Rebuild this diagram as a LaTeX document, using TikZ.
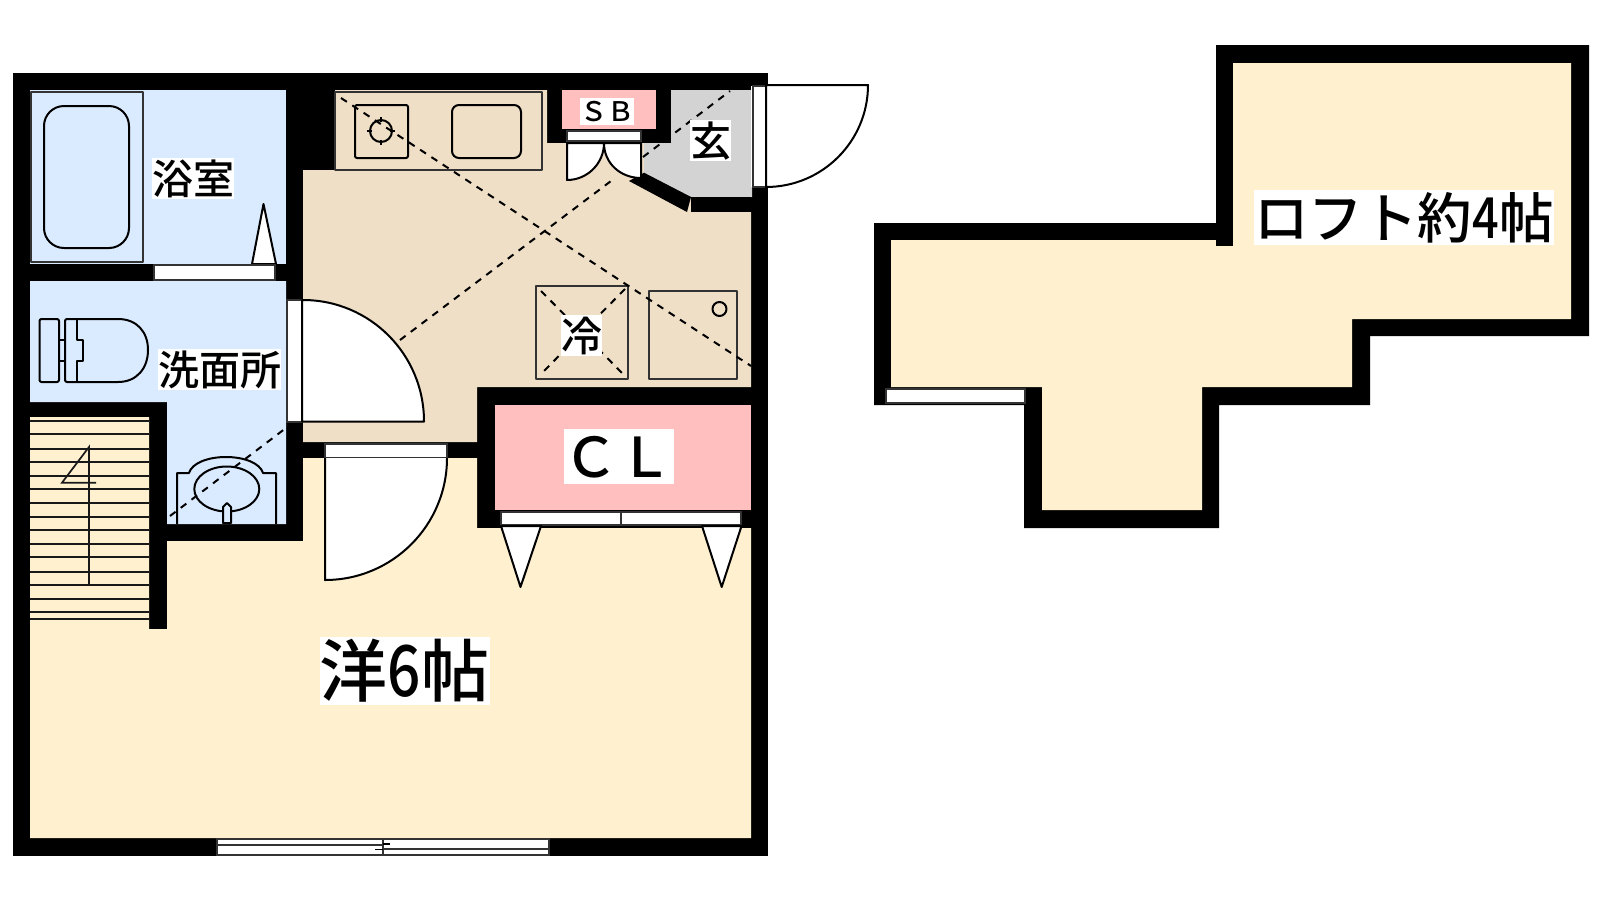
\documentclass[tikz,border=0pt]{standalone}
\usepackage{fontspec}
\usepackage{graphicx}
\newfontfamily\jpfont[UprightFont=* Medium]{Noto Sans CJK JP}
\newcommand{\hdig}[1]{\makebox[.5em]{\scalebox{.86}[1.04]{#1}}}
\definecolor{bathblue}{HTML}{DBEBFF}
\definecolor{kitbeige}{HTML}{EFDFC6}
\definecolor{roomyel}{HTML}{FFF0CF}
\definecolor{clpink}{HTML}{FFBFBF}
\definecolor{hallgray}{HTML}{D3D3D3}
\definecolor{winline}{HTML}{333333}
\tikzset{
  wall/.style={fill=black,draw=none},
  fixture/.style={draw=black,line width=2pt,line join=round},
  winframe/.style={fill=white,draw=winline,line width=2pt},
  leaf/.style={fill=white,draw=black,line width=2pt,line join=round},
  sweepline/.style={draw=black,line width=2pt,dash pattern=on 7pt off 6.5pt},
  tread/.style={draw=black!90,line width=1.7pt},
  lbl/.style={fill=white,inner sep=0pt,text=black,font=\jpfont\fontsize{#1}{#1}\selectfont,
    text height=.88*#1 pt,text depth=.12*#1 pt}
}
\begin{document}
\begin{tikzpicture}[x=1pt,y=-1pt]
\useasboundingbox (0,0) rectangle (1600,900);
% main walls
\fill[wall] (13,73) rectangle (768,856);
% rooms
\fill[bathblue] (30,90) rectangle (286,264);
\fill[bathblue] (30,281) -- (286,281) -- (286,524) -- (167,524) -- (167,402) -- (30,402) -- cycle;
\fill[roomyel] (30,417) -- (149,417) -- (149,629) -- (167,629) -- (167,541) -- (303,541) -- (303,458) -- (477,458) -- (477,528) -- (751,528) -- (751,838) -- (30,838) -- cycle;
\fill[kitbeige] (303,170) -- (335,170) -- (335,90) -- (547,90) -- (547,143) -- (644,143) -- (644,173) -- (691,197) -- (691,212) -- (751,212) -- (751,387) -- (477,387) -- (477,442) -- (303,442) -- cycle;
\fill[hallgray] (671,90) -- (752,90) -- (752,197) -- (691,197) -- (644,173) -- (644,143) -- (671,143) -- cycle;
\fill[clpink] (562,90) rectangle (656,129);
\fill[clpink] (495,405) rectangle (751,510);
% walls on top of the rooms
\fill[wall] (644,172.7) -- (691,197) -- (687,212) -- (629,181) -- cycle;
\fill[wall] (691,197) rectangle (751,212);
% stairs
\foreach \yy in {420.7,434.3,448.7,462.3,476,489.3,503.3,516.7,530,544,557.3,571.7,585.3,598.7,612,619.3}
  \draw[tread] (30,\yy) -- (149,\yy);
\draw[line width=1.7pt,draw=black!90,line join=miter] (89,585) -- (89,447) -- (62,482.7) -- (96,482.7);
% bath
\draw[fixture,draw=winline] (31,92) rectangle (143,262);
\draw[fixture,rounded corners=20pt] (44,106) rectangle (129,248);
\draw[leaf] (252,264) -- (263.5,204) -- (276,264) -- cycle;
\draw[winframe] (154,265) rectangle (275,280);
% toilet
\draw[fixture,rounded corners=2pt] (39.5,319) rectangle (59,382);
\draw[fixture] (59,340) -- (65,340) (59,361) -- (65,361);
\draw[fixture,rounded corners=2pt] (118,319) -- (65,319) -- (65,382) -- (118,382);
\draw[fixture] (118,382) .. controls (137,382) and (148,368) .. (148,350) .. controls (148,332) and (137,319) .. (118,319);
\draw[fixture] (76.5,319) -- (76.5,340) -- (83,340) -- (83,361) -- (76.5,361) -- (76.5,382);
% wash basin
\draw[fixture] (177,524) -- (177,473) -- (189,473) .. controls (192,463) and (208,457) .. (226,457) .. controls (244,457) and (260,463) .. (263,473) -- (276,473) -- (276,524);
\draw[fixture] (226.8,489) ellipse [x radius=32.5pt,y radius=22.5pt];
\draw[fixture,fill=bathblue] (223,523) -- (223,507) -- (227,503) -- (231,507) -- (231,523) -- cycle;
% kitchen counter
\draw[fixture,draw=winline] (335,92) rectangle (541.5,170);
\draw[fixture,rounded corners=2pt] (355,105) rectangle (408,158);
\draw[fixture,rounded corners=7pt] (452,105) rectangle (521,158);
\draw[fixture] (381,131) circle [radius=11pt];
\draw[fixture,line width=1.5pt] (381,117) -- (381,122) (381,140) -- (381,145) (367,131) -- (372,131) (390,131) -- (395,131);
% fridge and washer
\draw[fixture,draw=winline] (536,286) rectangle (628,379);
\draw[fixture,draw=winline] (649,291) rectangle (737,379);
\draw[fixture] (719.5,309) circle [radius=7pt];
\draw[sweepline] (541,291) -- (625,376);
\draw[sweepline] (625,289) -- (541,374);
% sweep lines
\draw[sweepline] (341,98) -- (751,366);
\draw[sweepline] (170,516) -- (286,428);
\draw[sweepline] (400,340) -- (615,178);
\draw[sweepline] (643,157) -- (730,91);
% SB doors
\draw[winframe] (567,130.5) rectangle (641,141);
\draw[leaf] (567,143) -- (567,180) .. controls (587.4,180) and (604,163.4) .. (604,143) -- cycle;
\draw[leaf] (641,143) -- (641,178) .. controls (620.6,178) and (604,163.4) .. (604,143) -- cycle;
% wash door
\draw[winframe] (287,300) rectangle (302,422);
\draw[leaf] (303,300) .. controls (369.8,300) and (424,354.2) .. (424,421.5) -- (302,421.5) -- (302,300) -- cycle;
% room door
\draw[winframe] (325,444) rectangle (447,458);
\draw[leaf] (325,458) -- (325,580) .. controls (392.4,580) and (447,525.4) .. (447,458);
% entry door
\fill[white] (751,86) rectangle (768,187);
\draw[winframe] (752.5,86) rectangle (766,187);
\draw[leaf] (766,85) -- (868,85) .. controls (868,141.3) and (822.3,187) .. (766,187) -- cycle;
% closet
\draw[winframe] (501,512) rectangle (621,525);
\draw[winframe] (621,512) rectangle (741,525);
\draw[leaf] (501,526) -- (541,526) -- (520.5,587) -- cycle;
\draw[leaf] (702,526) -- (741.5,526) -- (721.7,587) -- cycle;
% sliding window
\draw[winframe] (217,838.7) rectangle (549,855.3);
\draw[line width=2pt,draw=winline] (217,845) -- (382.5,845) (382.5,849) -- (549,849) (382.5,838.7) -- (382.5,855.3);
\draw[line width=1.7pt] (382.5,844) -- (390,844) (375,849.5) -- (382.5,849.5);
% loft
\fill[wall] (1216,45) -- (1589,45) -- (1589,336) -- (1370,336) -- (1370,405) -- (1219,405) -- (1219,528) -- (1024,528) -- (1024,405) -- (874,405) -- (874,223) -- (1216,223) -- cycle;
\fill[roomyel] (1233,63) -- (1571,63) -- (1571,319) -- (1352,319) -- (1352,387) -- (1202,387) -- (1202,510) -- (1042,510) -- (1042,387) -- (891,387) -- (891,240) -- (1233,240) -- cycle;
\fill[wall] (1216,223) rectangle (1233,246);
\draw[winframe] (886,388.5) rectangle (1025,402.5);
% labels
\node[lbl=41] (bath) at (193,178.5) {浴室};
\node[lbl=41] (wash) at (219.5,369.5) {洗面所};
\node[lbl=41] (hall) at (710.5,140.5) {玄};
\node[lbl=41] (fridge) at (581.5,335.5) {冷};
\node[lbl=55] (closet) at (618.5,456.5) {ＣＬ};
\node[lbl=27] (sb) at (607,111.5) {ＳＢ};
\node[lbl=68] (room) at (404.5,671) {洋\hdig{6}帖};
\node[lbl=54.5] (loft) at (1404,217.5) {ロフト約\hdig{4}帖};
\end{tikzpicture}
\end{document}
